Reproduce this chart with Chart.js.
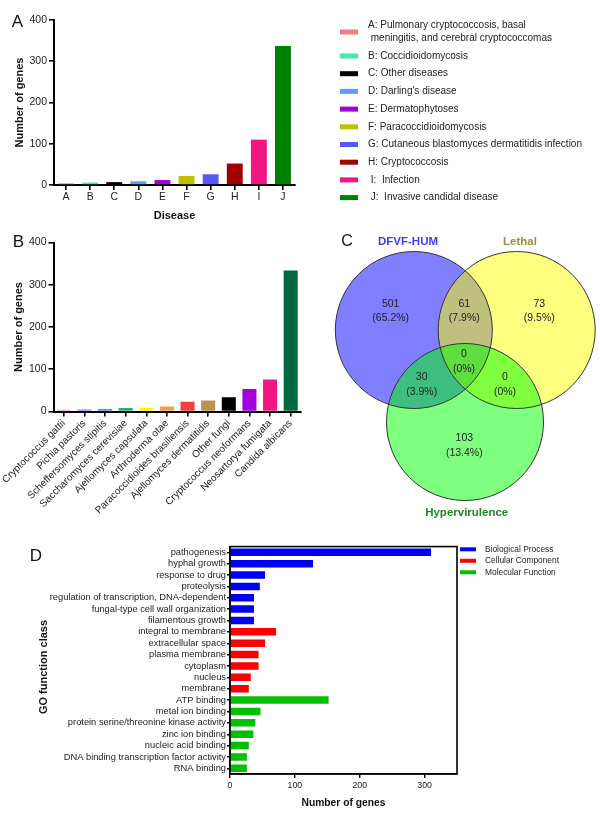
<!DOCTYPE html>
<html>
<head>
<meta charset="utf-8">
<script src="https://cdn.jsdelivr.net/npm/chart.js@4.4.1/dist/chart.umd.min.js"></script>
<style>
body { margin: 0; background: #fff; }
#wrap { position: relative; width: 600px; height: 814px; overflow: hidden; background: #fff; }
canvas { position: absolute; }
</style>
</head>
<body>
<div id="wrap">
  <canvas id="chartA" style="left:0;top:0" width="600" height="224"></canvas>
  <canvas id="chartB" style="left:0;top:220px" width="320" height="320"></canvas>
  <canvas id="chartC" style="left:300px;top:220px" width="300" height="320"></canvas>
  <canvas id="chartD" style="left:0;top:540px" width="600" height="274"></canvas>
</div>
<script>
const fam = "'Liberation Sans', Arial, Helvetica, sans-serif";
Chart.defaults.font.family = fam;
Chart.defaults.color = '#222';

// A: genes per disease
const diseaseLetters = ['A', 'B', 'C', 'D', 'E', 'F', 'G', 'H', 'I', 'J'];
const diseaseNames = [
    ['A: Pulmonary cryptococcosis, basal', ' meningitis, and cerebral cryptococcomas'],
    ['B: Coccidioidomycosis'],
    ['C: Other diseases'],
    ["D: Darling's disease"],
    ['E: Dermatophytoses'],
    ['F: Paracoccidioidomycosis'],
    ['G: Cutaneous blastomyces dermatitidis infection'],
    ['H: Cryptococcosis'],
    [' I:  Infection'],
    [' J:  Invasive candidal disease']
];
const diseaseGenes = [4, 6, 7, 9, 12, 22, 26, 52, 110, 337];
const diseaseColors = ['#f08080', '#40eaa8', '#000000', '#5aa0f0', '#a000e0', '#c0c000', '#5858f8', '#a00000', '#f01880', '#008000'];

// B: genes per fungus
const fungi = ['Cryptococcus gattii', 'Pichia pastoris', 'Scheffersomyces stipitis', 'Saccharomyces cerevisiae',
    'Ajellomyces capsulata', 'Arthroderma otae', 'Paracoccidioides brasiliensis', 'Ajellomyces dermatitidis',
    'Other fungi', 'Cryptococcus neoformans', 'Neosartorya fumigata', 'Candida albicans'];
const fungiGenes = [4, 5, 6, 8, 9, 12, 23, 26, 34, 53, 76, 334];
const fungiColors = ['#f0a0f0', '#8080f0', '#4898f0', '#20b070', '#f8f800', '#f0a040', '#f04040', '#c09050',
    '#000000', '#a000e0', '#f01880', '#006840'];

// C: venn
const vennSets = ['DFVF-HUM', 'Lethal', 'Hypervirulence'];
const vennSetColors = ['#3c3cf0', '#9a9040', '#208820'];
const vennRegionCounts = [501, 61, 73, 0, 30, 0, 103];
const vennRegionPercents = ['65.2%', '7.9%', '9.5%', '0%', '3.9%', '0%', '13.4%'];

// D: GO classes
const goTerms = ['pathogenesis', 'hyphal growth', 'response to drug', 'proteolysis',
    'regulation of transcription, DNA-dependent', 'fungal-type cell wall organization', 'filamentous growth',
    'integral to membrane', 'extracellular space', 'plasma membrane', 'cytoplasm', 'nucleus', 'membrane',
    'ATP binding', 'metal ion binding', 'protein serine/threonine kinase activity', 'zinc ion binding',
    'nucleic acid binding', 'DNA binding transcription factor activity', 'RNA binding'];
const goGenes = [310, 128, 54, 46, 37, 37, 37, 71, 54, 44, 44, 32, 29, 152, 47, 39, 36, 29, 26, 26];
const goClass = ['BP', 'BP', 'BP', 'BP', 'BP', 'BP', 'BP', 'CC', 'CC', 'CC', 'CC', 'CC', 'CC',
    'MF', 'MF', 'MF', 'MF', 'MF', 'MF', 'MF'];
const goClassNames = ['Biological Process', 'Cellular Component', 'Molecular Function'];
const goClassColors = { BP: '#0000f4', CC: '#ff0000', MF: '#00c000' };

// simple text drawing (panel letters etc.)
const textPlugin = {
    id: 'panelText',
    afterDraw(chart, args, opts) {
        const ctx = chart.ctx;
        (opts.items || []).forEach(it => {
            ctx.save();
            ctx.font = it.font;
            ctx.fillStyle = it.color || '#111';
            ctx.textAlign = it.align || 'center';
            ctx.textBaseline = 'middle';
            ctx.translate(it.x, it.y);
            if (it.rot) ctx.rotate(it.rot);
            ctx.fillText(it.text, 0, 0);
            ctx.restore();
        });
    }
};

// swatch legend drawn from arrays
const swatchLegend = {
    id: 'swatchLegend',
    afterDraw(chart, args, opts) {
        const ctx = chart.ctx;
        ctx.save();
        ctx.font = opts.font;
        ctx.textBaseline = 'middle';
        ctx.textAlign = 'left';
        let y = opts.top;
        opts.labels.forEach((lines, i) => {
            const midY = y + (lines.length - 1) * opts.lineGap / 2;
            ctx.fillStyle = opts.colors[i];
            ctx.fillRect(opts.x, midY - opts.boxH / 2, opts.boxW, opts.boxH);
            ctx.fillStyle = '#222';
            lines.forEach((l, j) => ctx.fillText(l, opts.textX, y + j * opts.lineGap));
            y += (lines.length - 1) * opts.lineGap + opts.rowGap;
        });
        ctx.restore();
    }
};

const boxPlugin = {
    id: 'boxFrame',
    afterDraw(chart) {
        const a = chart.chartArea;
        const ctx = chart.ctx;
        ctx.save();
        ctx.strokeStyle = '#000';
        ctx.lineWidth = 1.6;
        ctx.strokeRect(a.left, a.top, a.right - a.left, a.bottom - a.top);
        ctx.restore();
    }
};

function axisStyle(extra) {
    return Object.assign({
        grid: { drawOnChartArea: false, color: '#000', lineWidth: 1.6, tickLength: 5 },
        border: { color: '#000', width: 2 }
    }, extra);
}

// ---------- A ----------
new Chart(document.getElementById('chartA'), {
    type: 'bar',
    data: {
        labels: diseaseLetters,
        datasets: [{ data: diseaseGenes, backgroundColor: diseaseColors, barPercentage: 0.66, categoryPercentage: 1 }]
    },
    plugins: [textPlugin, swatchLegend],
    options: {
        responsive: false,
        animation: false,
        layout: { autoPadding: false, padding: { left: 0, top: 20, right: 305, bottom: 0 } },
        plugins: {
            legend: { display: false },
            tooltip: { enabled: false },
            panelText: { items: [{ text: 'A', x: 17.5, y: 22.5, font: '17px ' + fam }] },
            swatchLegend: {
                labels: diseaseNames, colors: diseaseColors, font: '10px ' + fam,
                x: 340, textX: 368, top: 25.7, lineGap: 12.6, rowGap: 17.7, boxW: 18, boxH: 5
            }
        },
        scales: {
            x: axisStyle({
                grid: { drawOnChartArea: false, offset: false, color: '#000', lineWidth: 1.6, tickLength: 5 },
                ticks: { font: { size: 10.5 }, padding: 1 },
                title: { display: true, text: 'Disease', font: { size: 11, weight: 'bold' }, color: '#111', padding: { top: 0, bottom: 1.4 } },
                afterFit: s => { s.height = 39; }
            }),
            y: axisStyle({
                min: 0, max: 400,
                ticks: { stepSize: 100, font: { size: 10.5 }, padding: 2 },
                title: { display: true, text: 'Number of genes', font: { size: 11, weight: 'bold' }, color: '#111', padding: { top: 13.4, bottom: 0 } },
                afterFit: s => { s.width = 54; }
            })
        }
    }
});

// ---------- B ----------
new Chart(document.getElementById('chartB'), {
    type: 'bar',
    data: {
        labels: fungi,
        datasets: [{ data: fungiGenes, backgroundColor: fungiColors, barPercentage: 0.68, categoryPercentage: 1 }]
    },
    plugins: [textPlugin],
    options: {
        responsive: false,
        animation: false,
        layout: { autoPadding: false, padding: { left: 0, top: 22.5, right: 19, bottom: 0 } },
        plugins: {
            legend: { display: false },
            tooltip: { enabled: false },
            panelText: { items: [{ text: 'B', x: 18.5, y: 22, font: '17px ' + fam }] }
        },
        scales: {
            x: axisStyle({
                grid: { drawOnChartArea: false, offset: false, color: '#000', lineWidth: 1.6, tickLength: 5 },
                ticks: { font: { size: 10 }, padding: 1, autoSkip: false, minRotation: 45, maxRotation: 45 },
                afterFit: s => { s.height = 128.5; s.paddingLeft = 0; s.paddingRight = 0; }
            }),
            y: axisStyle({
                min: 0, max: 400,
                ticks: { stepSize: 100, font: { size: 10.5 }, padding: 2 },
                title: { display: true, text: 'Number of genes', font: { size: 11, weight: 'bold' }, color: '#111', padding: { top: 12.4, bottom: 0 } },
                afterFit: s => { s.width = 53.5; }
            })
        }
    }
});

// ---------- C ----------
// circle centres / label spots in the hidden scale units (1 unit = 1 px of this canvas)
const vennCentres = [{ x: 113.8, y: 110 }, { x: 216.7, y: 110 }, { x: 165, y: 202 }];
const vennRadius = 78.5;
const vennFills = ['rgba(0,0,255,0.5)', 'rgba(255,255,0,0.5)', 'rgba(0,255,0,0.5)'];
const vennTitleSpots = [{ x: 108, y: 22 }, { x: 220, y: 22 }, { x: 166.7, y: 293.3 }];
const vennRegionSpots = [{ x: 90.7, y: 84 }, { x: 164.3, y: 84 }, { x: 239.3, y: 84 }, { x: 164, y: 134.3 },
    { x: 121.7, y: 157.3 }, { x: 205, y: 157.3 }, { x: 164.3, y: 218.3 }];

const vennText = {
    id: 'vennText',
    afterDatasetsDraw(chart) {
        const ctx = chart.ctx;
        const sx = chart.scales.x, sy = chart.scales.y;
        ctx.save();
        ctx.textAlign = 'center';
        ctx.textBaseline = 'middle';
        ctx.font = 'bold 11.5px ' + fam;
        vennSets.forEach((name, i) => {
            ctx.fillStyle = vennSetColors[i];
            ctx.fillText(name, sx.getPixelForValue(vennTitleSpots[i].x), sy.getPixelForValue(vennTitleSpots[i].y));
        });
        ctx.font = '10.5px ' + fam;
        ctx.fillStyle = '#222';
        vennRegionCounts.forEach((n, i) => {
            const px = sx.getPixelForValue(vennRegionSpots[i].x);
            const py = sy.getPixelForValue(vennRegionSpots[i].y);
            ctx.fillText(String(n), px, py);
            ctx.fillText('(' + vennRegionPercents[i] + ')', px, py + 14.5);
        });
        ctx.restore();
    }
};

new Chart(document.getElementById('chartC'), {
    type: 'bubble',
    data: {
        datasets: [
            {
                data: vennCentres.map(c => ({ x: c.x, y: c.y, r: vennRadius })),
                backgroundColor: 'rgba(0,0,0,0)', borderColor: '#333', borderWidth: 1, clip: false
            },
            {
                data: vennCentres.map(c => ({ x: c.x, y: c.y, r: vennRadius })),
                backgroundColor: vennFills, borderWidth: 0, clip: false
            }
        ]
    },
    plugins: [textPlugin, vennText],
    options: {
        responsive: false,
        animation: false,
        layout: { autoPadding: false, padding: 0 },
        plugins: {
            legend: { display: false },
            tooltip: { enabled: false },
            panelText: { items: [{ text: 'C', x: 47, y: 21.7, font: '16px ' + fam }] }
        },
        scales: {
            x: { display: false, min: 0, max: 300 },
            y: { display: false, min: 0, max: 320, reverse: true }
        }
    }
});

// ---------- D ----------
const goLegendLabels = goClassNames.map(n => [n]);
const goLegendColors = Object.values(goClassColors);

new Chart(document.getElementById('chartD'), {
    type: 'bar',
    data: {
        labels: goTerms,
        datasets: [{
            data: goGenes,
            backgroundColor: goClass.map(c => goClassColors[c]),
            barPercentage: 0.66, categoryPercentage: 1
        }]
    },
    plugins: [textPlugin, swatchLegend, boxPlugin],
    options: {
        indexAxis: 'y',
        responsive: false,
        animation: false,
        layout: { autoPadding: false, padding: { left: 0, top: 2, right: 143, bottom: 0 } },
        plugins: {
            legend: { display: false },
            tooltip: { enabled: false },
            panelText: { items: [
                { text: 'D', x: 36, y: 16.5, font: '17px ' + fam },
                { text: 'GO function class', x: 44, y: 127, rot: -Math.PI / 2, font: 'bold 11px ' + fam }
            ] },
            swatchLegend: {
                labels: goLegendLabels, colors: goLegendColors, font: '8.4px ' + fam,
                x: 460, textX: 485, top: 9.3, lineGap: 11.5, rowGap: 11.5, boxW: 16, boxH: 4
            }
        },
        scales: {
            x: axisStyle({
                min: 0, max: 350,
                border: { color: '#000', width: 1.6 },
                grid: { drawOnChartArea: false, color: '#000', lineWidth: 1.4, tickLength: 4 },
                ticks: { stepSize: 100, font: { size: 8.8 }, padding: 2 },
                afterBuildTicks: s => { s.ticks = s.ticks.filter(t => t.value % 100 === 0); },
                title: { display: true, text: 'Number of genes', font: { size: 10.3, weight: 'bold' }, color: '#111', padding: { top: 0, bottom: 4.7 } },
                afterFit: s => { s.height = 40; }
            }),
            y: axisStyle({
                border: { color: '#000', width: 1.6 },
                grid: { drawOnChartArea: false, offset: false, color: '#000', lineWidth: 1.4, tickLength: 3 },
                ticks: { font: { size: 9.3 }, padding: 1, autoSkip: false },
                afterFit: s => { s.width = 230; }
            })
        }
    }
});
</script>
</body>
</html>
